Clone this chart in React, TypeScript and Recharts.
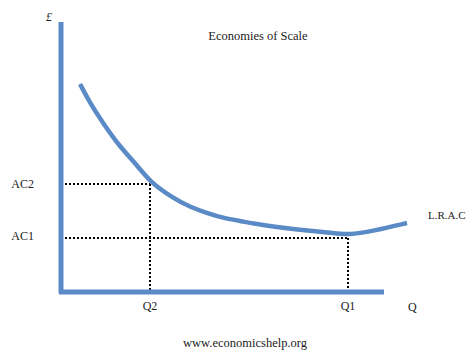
import React from "react";
import {
  LineChart,
  Line,
  XAxis,
  YAxis,
  ReferenceLine,
} from "recharts";

// long run average cost curve
const quantity = [19, 29, 42, 59, 76, 89, 112, 129, 146, 162, 179, 206, 239, 272, 287, 312, 346];
const avgCost = [208, 189, 169, 145, 127, 110, 94, 85, 79, 74, 71, 66, 62, 59, 57, 61, 69];

const qTicks = [89, 287];
const qTickLabels = ["Q2", "Q1"];
const costTicks = [56, 108];
const costTickLabels = ["AC1", "AC2"];

const BLUE = "#5b8bc6";
const FONT = "'Liberation Serif', 'DejaVu Serif', serif";

const curveData = quantity.map((q, i) => ({ q, ac: avgCost[i] }));

const textStyle: React.CSSProperties = {
  position: "absolute",
  fontFamily: FONT,
  fontSize: 12,
  color: "#222",
  whiteSpace: "nowrap",
  lineHeight: 1,
};

export default function App() {
  return (
    <div style={{ position: "absolute", left: 0, top: 0, width: 472, height: 364, background: "#fff" }}>
      <LineChart
        width={472}
        height={364}
        data={curveData}
        margin={{ top: 22, right: 62, bottom: 42, left: 0 }}
      >
        <XAxis
          dataKey="q"
          type="number"
          domain={[0, 349]}
          ticks={qTicks}
          tickFormatter={(v: number) => qTickLabels[qTicks.indexOf(v)]}
          axisLine={false}
          tickLine={false}
          tickSize={0}
          tickMargin={9}
          height={30}
          tick={{ fill: "#222", fontSize: 12, fontFamily: FONT }}
        />
        <YAxis
          type="number"
          domain={[0, 270]}
          ticks={costTicks}
          tickFormatter={(v: number) => costTickLabels[costTicks.indexOf(v)]}
          axisLine={false}
          tickLine={false}
          tickSize={0}
          tickMargin={27}
          width={61}
          tick={{ fill: "#222", fontSize: 12, fontFamily: FONT }}
        />
        {/* dotted guides */}
        <ReferenceLine
          segment={[{ x: 0, y: 108 }, { x: 89, y: 108 }]}
          stroke="#000"
          strokeWidth={2}
          strokeDasharray="2 2"
        />
        <ReferenceLine
          segment={[{ x: 89, y: 108 }, { x: 89, y: 0 }]}
          stroke="#000"
          strokeWidth={2}
          strokeDasharray="2 2"
        />
        <ReferenceLine
          segment={[{ x: 0, y: 54 }, { x: 287, y: 54 }]}
          stroke="#000"
          strokeWidth={2}
          strokeDasharray="2 2"
        />
        <ReferenceLine
          segment={[{ x: 287, y: 54 }, { x: 287, y: 0 }]}
          stroke="#000"
          strokeWidth={2}
          strokeDasharray="2 2"
        />
        {/* axes */}
        <ReferenceLine
          segment={[{ x: 0, y: -1 }, { x: 0, y: 270 }]}
          stroke={BLUE}
          strokeWidth={5}
          ifOverflow="visible"
        />
        <ReferenceLine
          segment={[{ x: -2, y: 0 }, { x: 323, y: 0 }]}
          stroke={BLUE}
          strokeWidth={5}
          ifOverflow="visible"
        />
        <Line
          dataKey="ac"
          type="basis"
          stroke={BLUE}
          strokeWidth={4.5}
          dot={false}
          isAnimationActive={false}
        />
      </LineChart>
      <div style={{ ...textStyle, left: 0, width: 516, top: 30, textAlign: "center", fontSize: 12.5 }}>
        Economies of Scale
      </div>
      <div style={{ ...textStyle, left: 46, top: 11, fontStyle: "italic" }}>£</div>
      <div style={{ ...textStyle, left: 408, top: 301 }}>Q</div>
      <div style={{ ...textStyle, left: 428, top: 210, fontSize: 11 }}>L.R.A.C</div>
      <div style={{ ...textStyle, left: 0, width: 490, top: 337, textAlign: "center", fontSize: 12.5 }}>
        www.economicshelp.org
      </div>
    </div>
  );
}
